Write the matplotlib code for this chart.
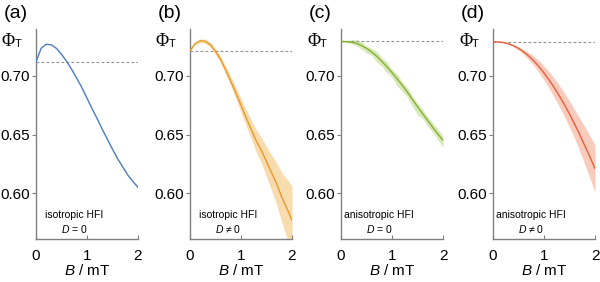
import matplotlib
matplotlib.use("Agg")
import matplotlib.pyplot as plt
import numpy as np

plt.rcParams['font.family'] = ['Liberation Sans', 'DejaVu Sans']
plt.rcParams['mathtext.fontset'] = 'custom'
plt.rcParams['mathtext.it'] = 'Liberation Sans:italic'
plt.rcParams['mathtext.rm'] = 'Liberation Sans'

B = [0.0, 0.1, 0.2, 0.3, 0.4, 0.5, 0.6, 0.7, 0.8, 0.9, 1.0,
     1.1, 1.2, 1.3, 1.4, 1.5, 1.6, 1.7, 1.8, 1.9, 2.0]

phi_a = [0.712, 0.7235, 0.727, 0.7265, 0.7235, 0.7185, 0.7125, 0.7055, 0.698, 0.690, 0.681,
         0.672, 0.6635, 0.6545, 0.646, 0.6375, 0.6295, 0.6225, 0.6155, 0.610, 0.605]

phi_b = [0.7215, 0.7275, 0.7300, 0.7295, 0.7265, 0.7210, 0.7140, 0.7050, 0.6955, 0.6855, 0.6750,
         0.6645, 0.6545, 0.6445, 0.6365, 0.6270, 0.6175, 0.6080, 0.5965, 0.5870, 0.5770]
err_b = [0.0005, 0.001, 0.0015, 0.0018, 0.002, 0.0025, 0.003, 0.0035, 0.004, 0.005, 0.006,
         0.007, 0.008, 0.0095, 0.011, 0.013, 0.015, 0.018, 0.021, 0.025, 0.029]

phi_c = [0.7295, 0.7292, 0.7288, 0.7278, 0.7260, 0.7235, 0.7205, 0.7168, 0.7125, 0.7078, 0.7028,
         0.6975, 0.6920, 0.6862, 0.6800, 0.6738, 0.6678, 0.6620, 0.6560, 0.6505, 0.6450]
up_c = [0.0005, 0.001, 0.002, 0.003, 0.003, 0.002, 0.003, 0.004, 0.003, 0.004, 0.003,
        0.004, 0.003, 0.004, 0.003, 0.003, 0.004, 0.003, 0.004, 0.004, 0.004]
lo_c = [0.0005, 0.001, 0.001, 0.002, 0.003, 0.004, 0.003, 0.005, 0.004, 0.005, 0.004,
        0.006, 0.005, 0.004, 0.006, 0.007, 0.004, 0.005, 0.004, 0.005, 0.006]

phi_d = [0.7290, 0.7290, 0.7285, 0.7275, 0.7258, 0.7235, 0.7205, 0.7170, 0.7128, 0.7080, 0.7025,
         0.6965, 0.6900, 0.6830, 0.6755, 0.6675, 0.6590, 0.6500, 0.6405, 0.6310, 0.6210]
err_d = [0.0, 0.0002, 0.0003, 0.0005, 0.001, 0.0015, 0.002, 0.003, 0.004, 0.005, 0.006,
         0.007, 0.008, 0.009, 0.010, 0.011, 0.012, 0.014, 0.016, 0.018, 0.020]

ref_levels = [0.712, 0.7215, 0.7295, 0.729]
panel_labels = ['(a)', '(b)', '(c)', '(d)']
hfi_labels = ['isotropic HFI', 'isotropic HFI', 'anisotropic HFI', 'anisotropic HFI']
d_labels = ['$D$ = 0', '$D$ ≠ 0', '$D$ = 0', '$D$ ≠ 0']
line_colors = ['#4a7cc0', '#e8992a', '#86b030', '#e8603c']
band_colors = [None, '#f9dcae', '#d9e8ba', '#f9cbbd']

yticks = [0.60, 0.65, 0.70]
ytick_labels = ['0.60', '0.65', '0.70']
xticks = [0, 1, 2]

W, H = 600, 282
fig = plt.figure(figsize=(6.0, 2.82), dpi=100)
lefts = [36, 190, 341, 493]
axw = 102
ybot, ytop = 239, 29

x = np.array(B)
series = [
    (np.array(phi_a), None, None),
    (np.array(phi_b), np.array(phi_b) + np.array(err_b), np.array(phi_b) - np.array(err_b)),
    (np.array(phi_c), np.array(phi_c) + np.array(up_c), np.array(phi_c) - np.array(lo_c)),
    (np.array(phi_d), np.array(phi_d) + np.array(err_d), np.array(phi_d) - np.array(err_d)),
]

spine_col = '#808080'
for i in range(4):
    ax = fig.add_axes([lefts[i] / W, (H - ybot) / H, axw / W, (ybot - ytop) / H])
    y, hi, lo = series[i]
    if hi is not None:
        ax.fill_between(x, lo, hi, color=band_colors[i], lw=0, zorder=1)
    ax.plot(x, y, color=line_colors[i], lw=1.0, zorder=3)
    ax.plot([0, 2], [ref_levels[i]] * 2, color='#909090', lw=0.8,
            linestyle=(0, (2.5, 2)), zorder=2)
    ax.set_xlim(0, 2)
    ax.set_ylim(0.561, 0.740)
    ax.set_yticks(yticks)
    ax.set_yticklabels(ytick_labels, fontsize=11)
    ax.set_xticks(xticks)
    ax.set_xticklabels([str(t) for t in xticks], fontsize=11)
    for s in ['top', 'right']:
        ax.spines[s].set_visible(False)
    for s in ['left', 'bottom']:
        ax.spines[s].set_color(spine_col)
        ax.spines[s].set_linewidth(1.0)
    ax.tick_params(axis='y', direction='out', length=3, width=0.8, color=spine_col, pad=1.5)
    ax.tick_params(axis='x', direction='in', length=3, width=0.8, color=spine_col, pad=7)
    ax.set_xlabel('$B$ / mT', fontsize=11, labelpad=0)
    ax.patch.set_alpha(0)

    fig.text((lefts[i] - 32) / W, (H - 13) / H, panel_labels[i], fontsize=14,
             va='center', ha='left')
    fig.text((lefts[i] - 34) / W, (H - 41) / H, 'Φ', fontsize=13,
             family='Liberation Serif', va='center', ha='left')
    fig.text((lefts[i] - 21) / W, (H - 44) / H, 'T', fontsize=8,
             va='center', ha='left')
    cx = lefts[i] + 38
    fig.text(cx / W, (H - 215) / H, hfi_labels[i], fontsize=7.5, ha='center', va='center')
    fig.text(cx / W, (H - 229) / H, d_labels[i], fontsize=7.5, ha='center', va='center')

fig.savefig('out.png', dpi=100)
